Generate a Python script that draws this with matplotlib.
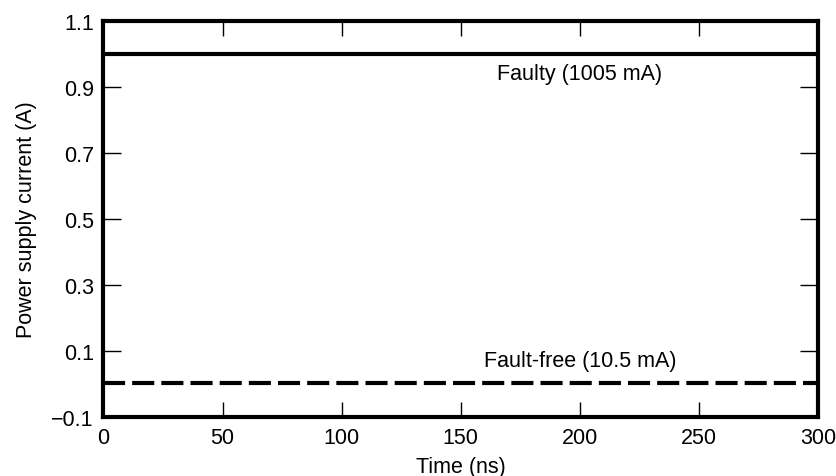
import numpy as np
import matplotlib
matplotlib.use('Agg')
import matplotlib.pyplot as plt

plt.rcParams['font.family'] = ['Liberation Sans', 'DejaVu Sans']
plt.rcParams['font.size'] = 15.5

# data (A)
time_ns = [0, 300]
faulty = [0.999, 0.999]
fault_free = [0.004, 0.004]
yticks = [-0.1, 0.1, 0.3, 0.5, 0.7, 0.9, 1.1]
xticks = [0, 50, 100, 150, 200, 250, 300]

fig = plt.figure(figsize=(8.37, 4.77), dpi=100)
ax = fig.add_axes([103.5 / 837, 1 - 418.3 / 477, (818 - 103.5) / 837, (418.3 - 21.5) / 477])

ax.plot(time_ns, faulty, color='black', lw=3, solid_capstyle='butt')
ax.plot(time_ns, fault_free, color='black', lw=3, dashes=(5.3, 1.7), dash_capstyle='butt')

ax.text(200, 0.939, 'Faulty (1005 mA)', ha='center', va='center')
ax.text(200, 0.073, 'Fault-free (10.5 mA)', ha='center', va='center')

ax.set_xlim(0, 300)
ax.set_ylim(-0.1, 1.1)
ax.set_xticks(xticks)
ax.set_yticks(yticks)
ax.set_yticklabels(['\u22120.1', '0.1', '0.3', '0.5', '0.7', '0.9', '1.1'])
ax.tick_params(axis='x', direction='in', top=True, length=11, width=1, pad=7)
ax.tick_params(axis='y', direction='in', right=True, length=13, width=1, pad=7)
for s in ax.spines.values():
    s.set_linewidth(3)

ax.set_xlabel('Time (ns)', labelpad=6)
ax.set_ylabel('Power supply current (A)', labelpad=10)

fig.savefig('out.png', dpi=100)
